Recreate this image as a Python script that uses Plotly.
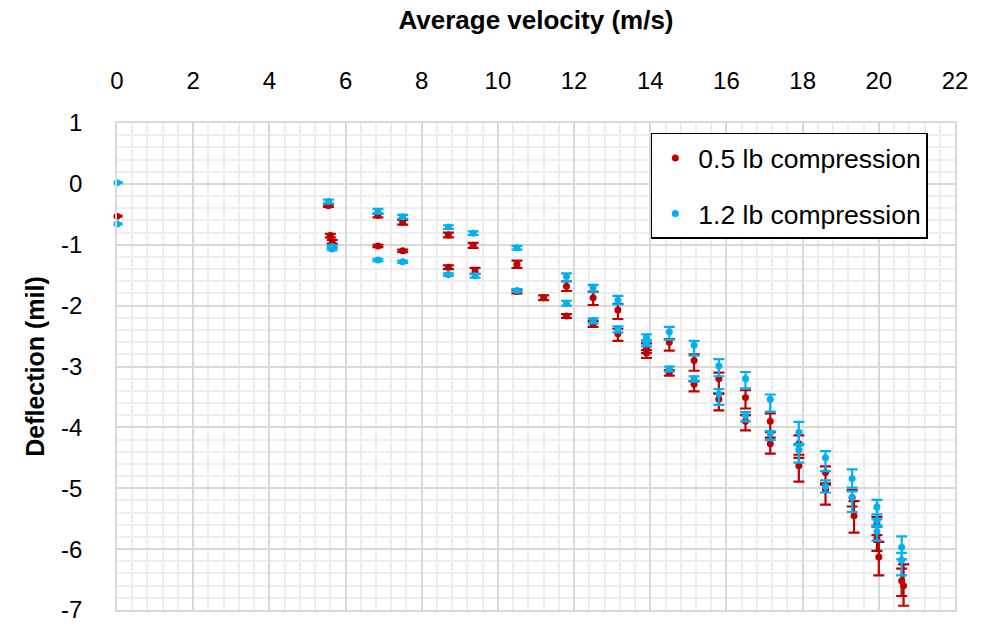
import plotly.graph_objects as go

# ---- data ----
red_x = [0.0, 5.55, 5.6, 5.65, 6.85, 6.85, 7.5, 7.5, 8.7, 8.7, 9.35, 9.4,
         10.5, 10.5, 11.2, 11.8, 11.8, 12.5, 12.5, 13.15, 13.15, 13.9, 13.9,
         14.5, 14.5, 15.15, 15.15, 15.8, 15.8, 16.5, 16.5, 17.15, 17.15,
         17.9, 17.9, 18.6, 18.6, 19.3, 19.35, 19.95, 19.95, 20.0, 20.6, 20.65]
red_y = [-0.53, -0.36, -0.85, -0.95, -0.52, -1.02, -0.63, -1.10, -0.84, -1.37, -1.01, -1.43,
         -1.32, -1.77, -1.87, -1.68, -2.17, -1.87, -2.30, -2.07, -2.46, -2.70, -2.78,
         -2.60, -3.10, -2.90, -3.29, -3.20, -3.54, -3.51, -3.90, -3.90, -4.27,
         -4.27, -4.63, -4.74, -5.02, -5.15, -5.45, -5.57, -5.83, -6.13, -6.52, -6.60]
red_err_up = [0.01, 0.02, 0.03, 0.03, 0.03, 0.02, 0.04, 0.02, 0.04, 0.03, 0.04, 0.05,
              0.06, 0.03, 0.04, 0.08, 0.03, 0.10, 0.05, 0.10, 0.08, 0.08, 0.05,
              0.05, 0.04, 0.10, 0.05, 0.10, 0.10, 0.12, 0.10, 0.13, 0.10,
              0.14, 0.13, 0.10, 0.10, 0.12, 0.24, 0.10, 0.20, 0.25, 0.20, 0.35]
red_err_down = [0.01, 0.02, 0.03, 0.03, 0.03, 0.02, 0.04, 0.02, 0.04, 0.03, 0.04, 0.05,
                0.06, 0.03, 0.04, 0.08, 0.03, 0.12, 0.05, 0.15, 0.12, 0.08, 0.08,
                0.14, 0.05, 0.17, 0.12, 0.25, 0.18, 0.18, 0.15, 0.18, 0.16,
                0.18, 0.26, 0.20, 0.25, 0.15, 0.28, 0.20, 0.20, 0.30, 0.25, 0.33]

blue_x = [0.0, 0.0, 5.55, 5.65, 5.65, 6.85, 6.85, 7.5, 7.5, 8.7, 8.7, 9.35, 9.4,
          10.5, 10.5, 11.8, 11.8, 12.5, 12.5, 13.15, 13.15, 13.9, 13.9,
          14.5, 14.5, 15.15, 15.15, 15.8, 15.8, 16.5, 16.5, 17.15, 17.15,
          17.9, 17.9, 18.6, 18.6, 19.3, 19.3, 19.95, 19.95, 19.95, 20.6, 20.6]
blue_y = [0.02, -0.66, -0.29, -1.03, -1.07, -0.45, -1.25, -0.54, -1.28, -0.71, -1.49, -0.81, -1.51,
          -1.05, -1.75, -1.52, -1.96, -1.70, -2.25, -1.91, -2.39, -2.52, -2.62,
          -2.43, -3.04, -2.65, -3.20, -2.99, -3.45, -3.20, -3.80, -3.54, -4.11,
          -4.08, -4.37, -4.50, -4.97, -4.84, -5.15, -5.31, -5.53, -5.71, -5.97, -6.18]
blue_err_up = [0.01, 0.01, 0.03, 0.02, 0.02, 0.04, 0.02, 0.03, 0.02, 0.03, 0.02, 0.03, 0.03,
               0.03, 0.02, 0.05, 0.04, 0.04, 0.04, 0.07, 0.05, 0.05, 0.05,
               0.08, 0.04, 0.07, 0.04, 0.11, 0.08, 0.11, 0.05, 0.08, 0.05,
               0.17, 0.10, 0.11, 0.10, 0.15, 0.10, 0.12, 0.10, 0.10, 0.18, 0.12]
blue_err_down = [0.01, 0.01, 0.03, 0.02, 0.02, 0.04, 0.02, 0.03, 0.02, 0.03, 0.02, 0.03, 0.03,
                 0.03, 0.02, 0.08, 0.04, 0.08, 0.04, 0.07, 0.05, 0.05, 0.05,
                 0.13, 0.04, 0.17, 0.05, 0.17, 0.18, 0.16, 0.10, 0.20, 0.10,
                 0.21, 0.21, 0.22, 0.10, 0.15, 0.24, 0.20, 0.10, 0.15, 0.20, 0.25]

series_names = ["0.5 lb compression", "1.2 lb compression"]
x_ticks = [0, 2, 4, 6, 8, 10, 12, 14, 16, 18, 20, 22]
y_ticks = [1, 0, -1, -2, -3, -4, -5, -6, -7]

RED = "#C00000"
BLUE = "#00B0F0"
FONT = "Liberation Sans, Arial, sans-serif"

fig = go.Figure()
for name, xs, ys, up, dn, col, grp in [
    (series_names[0], red_x, red_y, red_err_up, red_err_down, RED, "a"),
    (series_names[1], blue_x, blue_y, blue_err_up, blue_err_down, BLUE, "b"),
]:
    fig.add_trace(go.Scatter(
        x=xs, y=ys, mode="markers", name=name, legendgroup=grp,
        marker=dict(color=col, size=7),
        error_y=dict(type="data", symmetric=False, array=up, arrayminus=dn,
                     color=col, thickness=2.2, width=5.5),
        cliponaxis=False,
    ))

fig.update_layout(
    width=996, height=635,
    margin=dict(l=117, r=41, t=123, b=17),
    paper_bgcolor="white", plot_bgcolor="white",
    font=dict(family=FONT, color="black"),
    showlegend=True,
    legend=dict(
        x=0.637, y=0.98, xanchor="left", yanchor="top",
        bordercolor="black", borderwidth=1.5, bgcolor="white",
        font=dict(family=FONT, size=26.5, color="black"),
        traceorder="grouped", tracegroupgap=18, itemwidth=36,
    ),
)

fig.update_xaxes(
    side="top", range=[0, 22], tickvals=x_ticks, ticktext=[str(v) for v in x_ticks],
    tickfont=dict(size=24), ticks="", ticklabelstandoff=23,
    showgrid=True, gridcolor="#d9d9d9", gridwidth=1.5, zeroline=False,
    showline=True, linecolor="#d9d9d9", linewidth=1.5, mirror=True,
    minor=dict(dtick=0.4, tick0=0, showgrid=True, gridcolor="#eeeeee", gridwidth=1.5),
    title=dict(text="<b>Average velocity (m/s)</b>", font=dict(size=26), standoff=30),
)
fig.update_yaxes(
    range=[-7, 1], tickvals=y_ticks, ticktext=[str(v) for v in y_ticks],
    tickfont=dict(size=24), ticks="", ticklabelstandoff=28,
    showgrid=True, gridcolor="#d9d9d9", gridwidth=1.5, zeroline=False,
    showline=True, linecolor="#d9d9d9", linewidth=1.5, mirror=True,
    minor=dict(dtick=0.2, tick0=0, showgrid=True, gridcolor="#eeeeee", gridwidth=1.5),
    title=dict(text="<b>Deflection (mil)</b>", font=dict(size=25), standoff=9),
)

fig.write_html("out.html")
